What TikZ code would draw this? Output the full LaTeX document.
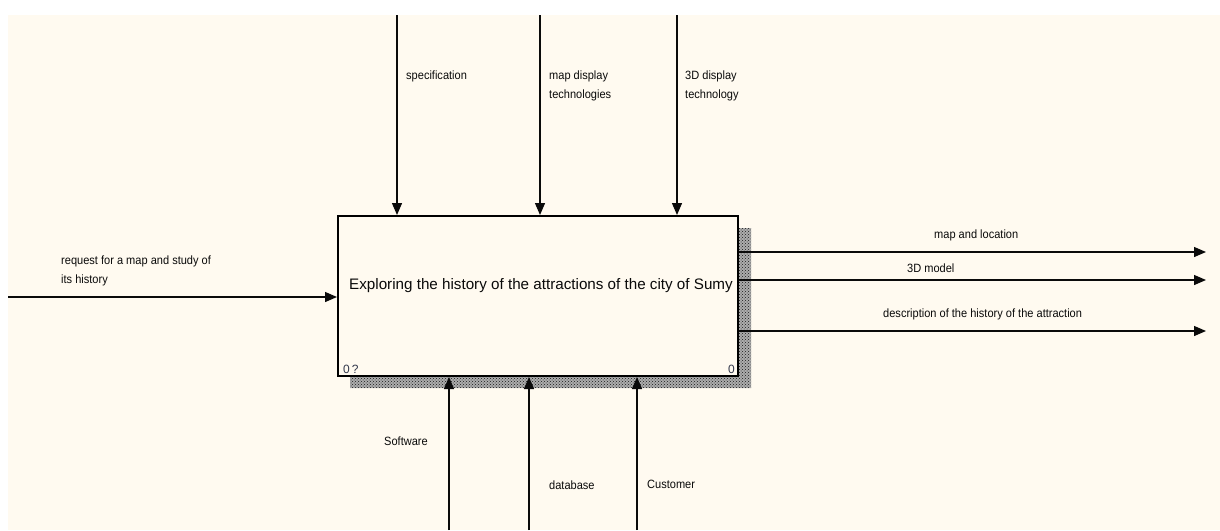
\documentclass[tikz,border=0pt]{standalone}
\usepackage{fontspec}
\setmainfont{Liberation Sans}
\newfontfamily\labelfont[FakeStretch=0.92]{Liberation Sans}
\usetikzlibrary{arrows.meta,patterns,calc}

\definecolor{paper}{RGB}{255,250,240}
\definecolor{ink}{RGB}{10,10,10}
\definecolor{numink}{RGB}{50,55,75}

\tikzset{
  flow/.style={draw=ink, line width=1.3pt, -{Triangle[length=12pt,width=10pt]}},
  fnbox/.style={draw=black, line width=2pt, fill=paper, minimum width=400pt,
    minimum height=160pt, inner sep=0pt},
  lbl/.style={font=\labelfont\fontsize{12}{19}\selectfont, text=ink, inner sep=0pt,
    anchor=west, align=left},
  boxlbl/.style={font=\fontsize{15.2}{18}\selectfont, text=ink, inner sep=0pt},
  numlbl/.style={font=\fontsize{12}{14}\selectfont, text=numink, inner sep=0pt},
  shadow/.style={preaction={fill=black!32}, pattern=crosshatch dots,
    pattern color=black!90}
}

\begin{document}
\begin{tikzpicture}[x=1pt,y=-1pt]
  % page and drawing area
  \fill[white] (0,0) rectangle (1220,530);
  \useasboundingbox (0,0) rectangle (1220,530);
  \fill[paper] (8,15) rectangle (1220,530);

  % hatched drop shadow of the activity box
  \fill[shadow] (739,228) -- (751,228) -- (751,388) -- (350,388)
    -- (350,377) -- (739,377) -- cycle;

  % activity box
  \node[fnbox] (box) at (538,296) {};
  \node[boxlbl] (title) at ($(box.center)+(3,-10)$)
    {Exploring the history of the attractions of the city of Sumy};
  \node[numlbl, anchor=south west] (num) at ($(box.south west)+(6,-3)$) {0\,?};
  \node[numlbl, anchor=south east] (nodeno) at ($(box.south east)+(-4,-3)$) {0};

  % controls (top)
  \coordinate (c1) at (397,15);
  \coordinate (c2) at (540,15);
  \coordinate (c3) at (677,15);
  \draw[flow] (c1) -- (c1 |- box.north);
  \draw[flow] (c2) -- (c2 |- box.north);
  \draw[flow] (c3) -- (c3 |- box.north);
  \node[lbl] (lc1) at (406,76) {specification};
  \node[lbl] (lc2) at (549,85.5) {map display\\technologies};
  \node[lbl] (lc3) at (685,85.5) {3D display\\technology};

  % input (left)
  \coordinate (i1) at (8,297);
  \draw[flow] (i1) -- (i1 -| box.west);
  \node[lbl] (li1) at (61,270.5) {request for a map and study of\\its history};

  % outputs (right)
  \coordinate (o1) at (1206,252);
  \coordinate (o2) at (1206,280);
  \coordinate (o3) at (1206,331);
  \draw[flow] (box.east |- o1) -- (o1);
  \draw[flow] (box.east |- o2) -- (o2);
  \draw[flow] (box.east |- o3) -- (o3);
  \node[lbl] (lo1) at (934,235) {map and location};
  \node[lbl] (lo2) at (907,268) {3D model};
  \node[lbl] (lo3) at (883,314) {description of the history of the attraction};

  % mechanisms (bottom)
  \coordinate (m1) at (449,530);
  \coordinate (m2) at (529,530);
  \coordinate (m3) at (637,530);
  \draw[flow] (m1) -- (m1 |- box.south);
  \draw[flow] (m2) -- (m2 |- box.south);
  \draw[flow] (m3) -- (m3 |- box.south);
  \node[lbl] (lm1) at (384,441) {Software};
  \node[lbl] (lm2) at (549,485) {database};
  \node[lbl] (lm3) at (647,484) {Customer};
\end{tikzpicture}
\end{document}
